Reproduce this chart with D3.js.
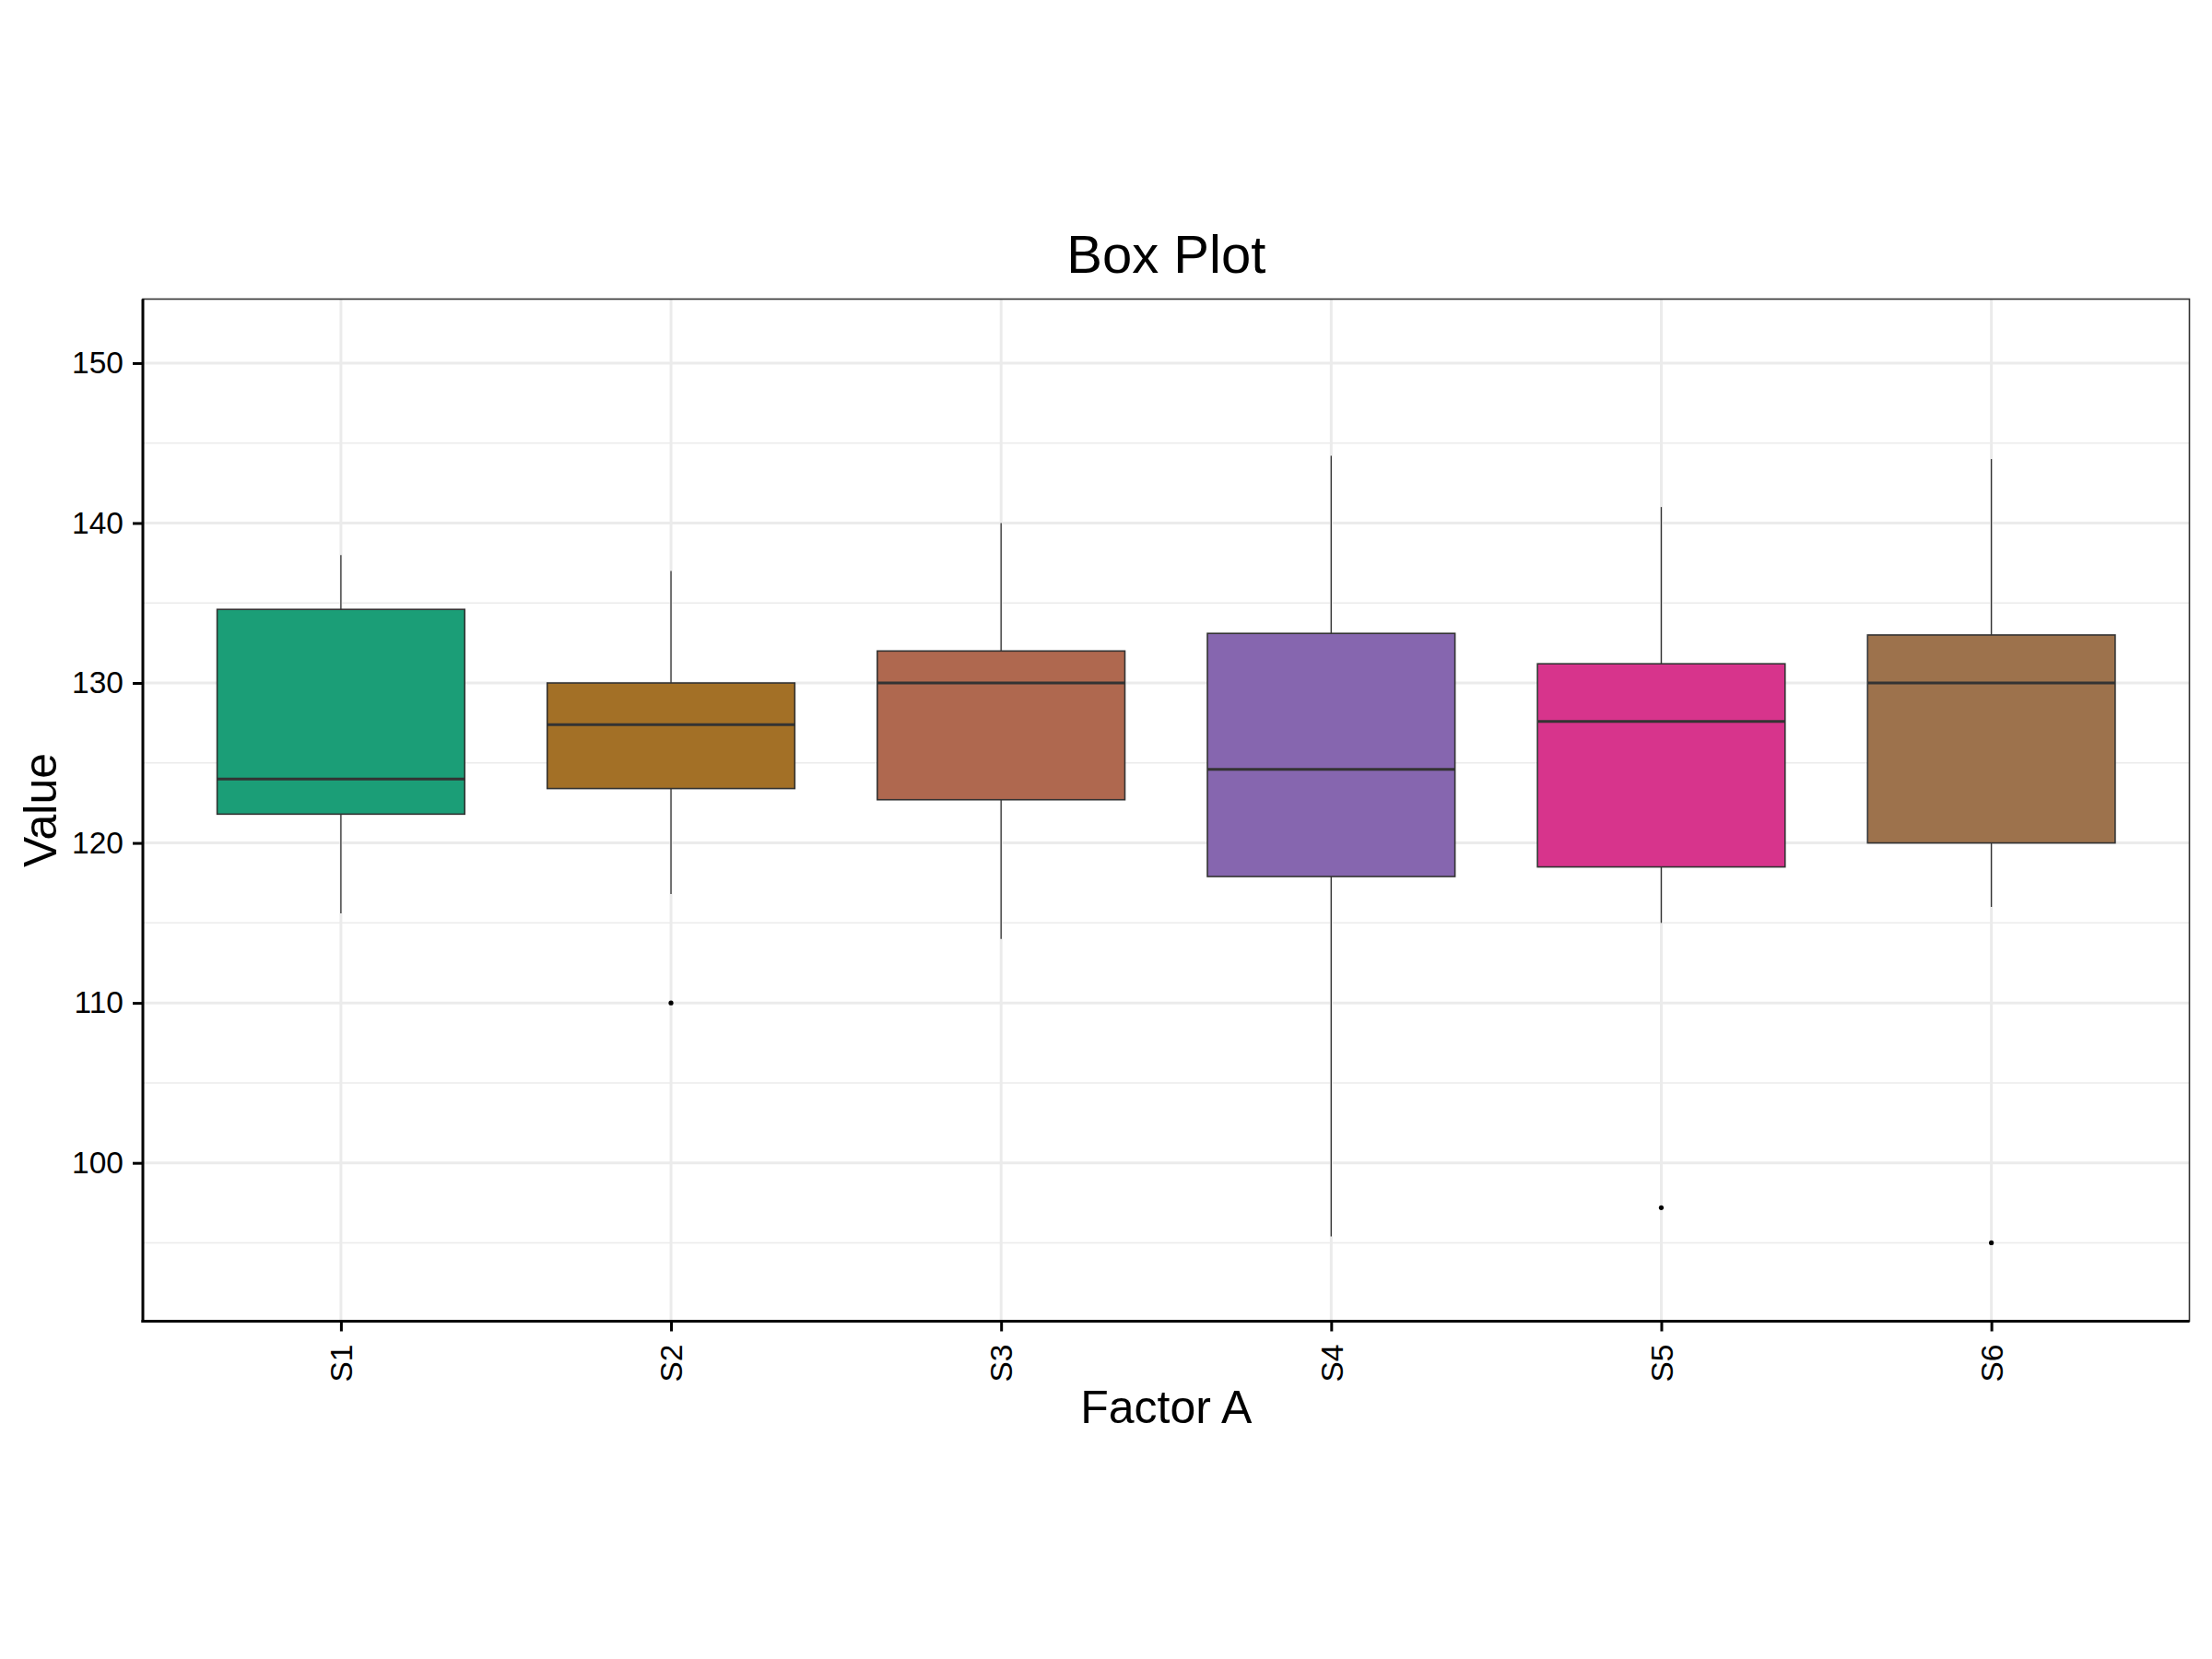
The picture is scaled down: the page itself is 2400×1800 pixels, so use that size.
<!DOCTYPE html>
<html>
<head>
<meta charset="utf-8">
<script src="https://cdn.jsdelivr.net/npm/d3@7"></script>
<style>
  html, body { margin: 0; padding: 0; background: #ffffff; }
  svg text { font-family: "Liberation Sans", Arial, sans-serif; }
</style>
</head>
<body>
<svg id="chart" width="2400" height="1800"></svg>
<script>
// ---- data ----
const categories  = ["S1", "S2", "S3", "S4", "S5", "S6"];
const whiskerLow  = [115.6, 116.8, 114.0, 95.4, 115.0, 116.0];
const q1          = [121.8, 123.4, 122.7, 117.9, 118.5, 120.0];
const medians     = [124.0, 127.4, 130.0, 124.6, 127.6, 130.0];
const q3          = [134.6, 130.0, 132.0, 133.1, 131.2, 133.0];
const whiskerHigh = [138.0, 137.0, 140.0, 144.2, 141.0, 144.0];
const outlierCats = ["S2", "S5", "S6"];
const outlierVals = [110.0, 97.2, 95.0];
const fills       = ["#1B9E77", "#A37026", "#AF684F", "#8666AF", "#D7348C", "#9D724C"];
const yTicks      = [100, 110, 120, 130, 140, 150];
const yMinor      = [95, 105, 115, 125, 135, 145];
const yDomain     = [90.1, 154.0];

const titleText = "Box Plot";
const xTitle = "Factor A";
const yTitle = "Value";

// ---- layout ----
const W = 2400, H = 1800;
const panel = { left: 155, right: 2375.5, top: 324.5, bottom: 1433.5 };

const svg = d3.select("#chart");
svg.append("rect").attr("x", 0).attr("y", 0).attr("width", W).attr("height", H).attr("fill", "#ffffff");

const x = d3.scalePoint().domain(categories).range([panel.left, panel.right]).padding(0.6);
const y = d3.scaleLinear().domain(yDomain).range([panel.bottom, panel.top]);
const boxW = x.step() * 0.75;

const rows = categories.map((c, i) => ({
  cat: c, lo: whiskerLow[i], q1: q1[i], med: medians[i], q3: q3[i], hi: whiskerHigh[i], fill: fills[i]
}));
const outliers = outlierCats.map((c, i) => ({ cat: c, v: outlierVals[i] }));

// ---- grid ----
const grid = svg.append("g");
grid.selectAll(".minor").data(yMinor).join("line")
  .attr("x1", panel.left).attr("x2", panel.right)
  .attr("y1", d => y(d)).attr("y2", d => y(d))
  .attr("stroke", "#EBEBEB").attr("stroke-width", 1.5);
grid.selectAll(".major").data(yTicks).join("line")
  .attr("x1", panel.left).attr("x2", panel.right)
  .attr("y1", d => y(d)).attr("y2", d => y(d))
  .attr("stroke", "#EBEBEB").attr("stroke-width", 3);
grid.selectAll(".vmajor").data(categories).join("line")
  .attr("x1", d => x(d)).attr("x2", d => x(d))
  .attr("y1", panel.top).attr("y2", panel.bottom)
  .attr("stroke", "#EBEBEB").attr("stroke-width", 3);

// ---- boxes ----
const g = svg.append("g");
const box = g.selectAll(".box").data(rows).join("g");
box.append("line")
  .attr("x1", d => x(d.cat)).attr("x2", d => x(d.cat))
  .attr("y1", d => y(d.hi)).attr("y2", d => y(d.q3))
  .attr("stroke", "#333333").attr("stroke-width", 1.3);
box.append("line")
  .attr("x1", d => x(d.cat)).attr("x2", d => x(d.cat))
  .attr("y1", d => y(d.q1)).attr("y2", d => y(d.lo))
  .attr("stroke", "#333333").attr("stroke-width", 1.3);
box.append("rect")
  .attr("x", d => x(d.cat) - boxW / 2).attr("width", boxW)
  .attr("y", d => y(d.q3)).attr("height", d => y(d.q1) - y(d.q3))
  .attr("fill", d => d.fill).attr("stroke", "#333333").attr("stroke-width", 1.6);
box.append("line")
  .attr("x1", d => x(d.cat) - boxW / 2).attr("x2", d => x(d.cat) + boxW / 2)
  .attr("y1", d => y(d.med)).attr("y2", d => y(d.med))
  .attr("stroke", "#333333").attr("stroke-width", 3);

g.selectAll(".out").data(outliers).join("circle")
  .attr("cx", d => x(d.cat)).attr("cy", d => y(d.v)).attr("r", 2.6)
  .attr("fill", "#000000");

// ---- panel border & axes ----
svg.append("rect")
  .attr("x", panel.left).attr("y", panel.top)
  .attr("width", panel.right - panel.left).attr("height", panel.bottom - panel.top)
  .attr("fill", "none").attr("stroke", "#333333").attr("stroke-width", 1.6);

const yAxis = d3.axisLeft(y).tickValues(yTicks).tickSize(11).tickPadding(10).tickFormat(d3.format("d"));
const ya = svg.append("g").attr("transform", `translate(${panel.left},0)`).call(yAxis);
ya.select(".domain").remove();
ya.selectAll(".tick line").attr("stroke", "#000").attr("stroke-width", 3);
ya.selectAll(".tick text").attr("fill", "#000").attr("font-size", 33.5)
  .attr("font-family", "'Liberation Sans', Arial, sans-serif");

const xAxis = d3.axisBottom(x).tickSize(11).tickPadding(0);
const xa = svg.append("g").attr("transform", `translate(0,${panel.bottom})`).call(xAxis);
xa.select(".domain").remove();
xa.selectAll(".tick line").attr("stroke", "#000").attr("stroke-width", 3);
xa.selectAll(".tick text")
  .attr("fill", "#000").attr("font-size", 33.5)
  .attr("font-family", "'Liberation Sans', Arial, sans-serif")
  .attr("text-anchor", "end")
  .attr("transform", "translate(0,25) rotate(-90)")
  .attr("x", 0).attr("y", 0).attr("dy", "0.35em");

// axis lines (left & bottom) in black
svg.append("line").attr("x1", panel.left).attr("x2", panel.left)
  .attr("y1", panel.top).attr("y2", panel.bottom + 1.5)
  .attr("stroke", "#000").attr("stroke-width", 3);
svg.append("line").attr("x1", panel.left - 1.5).attr("x2", panel.right)
  .attr("y1", panel.bottom).attr("y2", panel.bottom)
  .attr("stroke", "#000").attr("stroke-width", 3);

// ---- titles ----
const cx = (panel.left + panel.right) / 2;
svg.append("text").text(titleText)
  .attr("x", cx).attr("y", 296).attr("text-anchor", "middle")
  .attr("font-size", 58).attr("fill", "#000");
svg.append("text").text(xTitle)
  .attr("x", cx).attr("y", 1544).attr("text-anchor", "middle")
  .attr("font-size", 50).attr("fill", "#000");
svg.append("text").text(yTitle)
  .attr("transform", `translate(61,${(panel.top + panel.bottom) / 2}) rotate(-90)`)
  .attr("text-anchor", "middle")
  .attr("font-size", 50).attr("fill", "#000");
</script>
</body>
</html>
